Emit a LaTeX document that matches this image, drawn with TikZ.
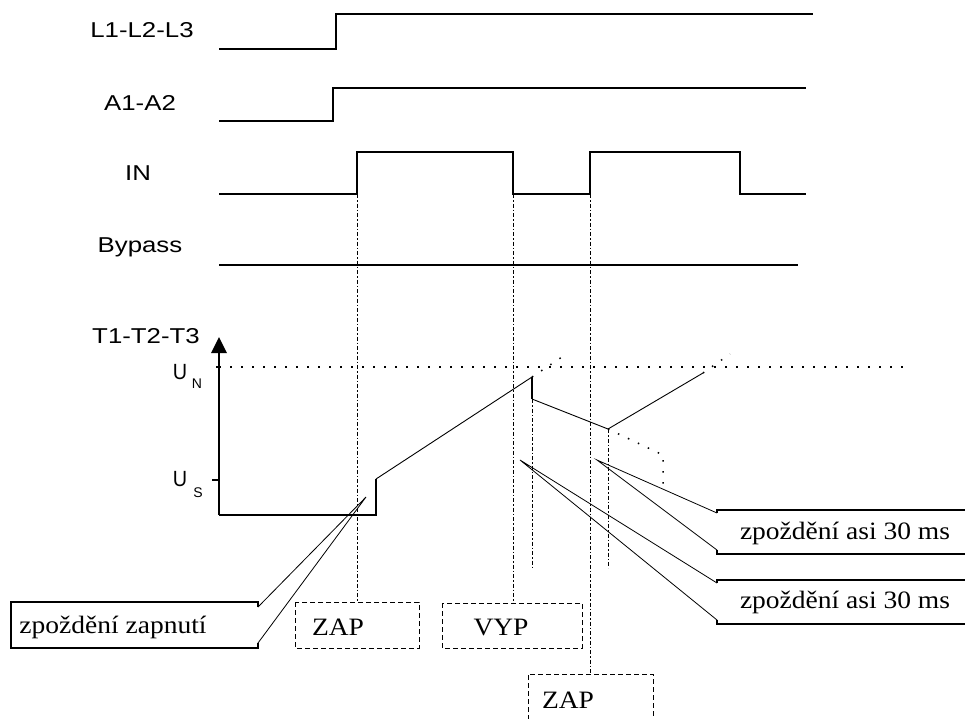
\documentclass[tikz,border=0pt]{standalone}
\usepackage{fontspec}
\setmainfont{Liberation Serif}
\newfontfamily\labelfont{Liberation Sans}
\begin{document}
\begin{tikzpicture}[x=1pt,y=-1pt,
  sig/.style={line width=1.5pt},
  wave/.style={line width=0.9pt},
  ddot/.style={line width=0.9pt, dash pattern=on 4pt off 2pt on 1.5pt off 2pt},
  boxd/.style={line width=1pt, dash pattern=on 5pt off 3pt},
  dots/.style={line width=1.5pt, dash pattern=on 1.5pt off 9.5pt},
  cbox/.style={line width=1.2pt},
  cline/.style={line width=0.8pt},
  lbl/.style={font=\labelfont\fontsize{21.5}{24}\selectfont, xscale=1.2, anchor=base, inner sep=0pt},
  ubig/.style={font=\labelfont\fontsize{22}{24}\selectfont, xscale=0.9, anchor=base, inner sep=0pt},
  usub/.style={font=\labelfont\fontsize{14}{16}\selectfont, anchor=base, inner sep=0pt},
  ctext/.style={font=\fontsize{25}{28}\selectfont, xscale=1.1, anchor=base, inner sep=0pt}]
\useasboundingbox (0,0) rectangle (965,718);

% labels
\node[lbl] (lL) at (142,37) {L1-L2-L3};
\node[lbl] (lA) at (140,110) {A1-A2};
\node[lbl] (lI) at (138,180) {IN};
\node[lbl] (lB) at (140,252) {Bypass};
\node[lbl] (lT) at (146,343) {T1-T2-T3};
\node[ubig] (uN) at (180,379) {U};
\node[usub] (sN) at (197,388) {N};
\node[ubig] (uS) at (180,486) {U};
\node[usub] (sS) at (198,497) {S};

% signals
\draw[sig] (219,49) -- (336,49) -- (336,14) -- (813,14);
\draw[sig] (219,121) -- (333,121) -- (333,88) -- (806,88);
\draw[sig] (219,194) -- (357,194) -- (357,152) -- (513,152) -- (513,194) -- (590,194) -- (590,152) -- (740,152) -- (740,194) -- (806,194);
\draw[sig] (219,265) -- (798,265);

% axis
\draw[sig] (219,515) -- (219,350);
\fill (219,337) -- (211,353) -- (227,353) -- cycle;
\draw[sig] (212,480) -- (219,480);
\draw[sig] (216,367) -- (219,367);

% dotted reference lines
\draw[dots] (219,367) -- (905,367);
\draw[dots] (532,377) -- (568,353);
\draw[dots] (608,429) -- (663,455) -- (663,490);
\draw[dots] (703,373) -- (730,354);

% waveform
\draw[sig] (219,515) -- (376,515) -- (376,479);
\draw[wave] (376,479) -- (532,377);
\draw[sig] (532,377) -- (532,399);
\draw[wave] (532,399) -- (608,429) -- (703,373);

% dash-dot verticals
\draw[ddot] (357,194) -- (357,602);
\draw[ddot] (513,194) -- (513,603);
\draw[ddot] (590,194) -- (590,674);
\draw[ddot] (532,399) -- (532,568);
\draw[ddot] (608,429) -- (608,568);

% dashed boxes
\draw[boxd] (295,602) rectangle (419,648);
\node[ctext] (zap1) at (338,635) {ZAP};
\draw[boxd] (442,603) rectangle (582,648);
\node[ctext] (vyp) at (501,635) {VYP};
\draw[boxd] (528,720) -- (528,674) -- (653,674) -- (653,720);
\node[ctext] (zap2) at (568,708) {ZAP};

% callout: zpozdeni zapnuti
\coordinate (t1) at (366,497);
\draw[cbox] (258,607) -- (258,602) -- (11,602) -- (11,648) -- (258,648) -- (258,643);
\draw[cline] (258,607) -- (t1) -- (258,643);
\node[ctext] (cz) at (113,633) {zpoždění zapnutí};

% callout 1 right
\coordinate (t2) at (597,460);
\draw[cbox] (717,513) -- (717,510) -- (966,510);
\draw[cbox] (717,550) -- (717,554) -- (966,554);
\draw[cline] (717,513) -- (t2) -- (717,550);
\node[ctext] (c1) at (845,539) {zpoždění asi 30 ms};

% callout 2 right
\coordinate (t3) at (520,460);
\draw[cbox] (717,583) -- (717,580) -- (966,580);
\draw[cbox] (717,620) -- (717,624) -- (966,624);
\draw[cline] (717,583) -- (t3) -- (717,620);
\node[ctext] (c2) at (845,608) {zpoždění asi 30 ms};
\end{tikzpicture}
\end{document}
